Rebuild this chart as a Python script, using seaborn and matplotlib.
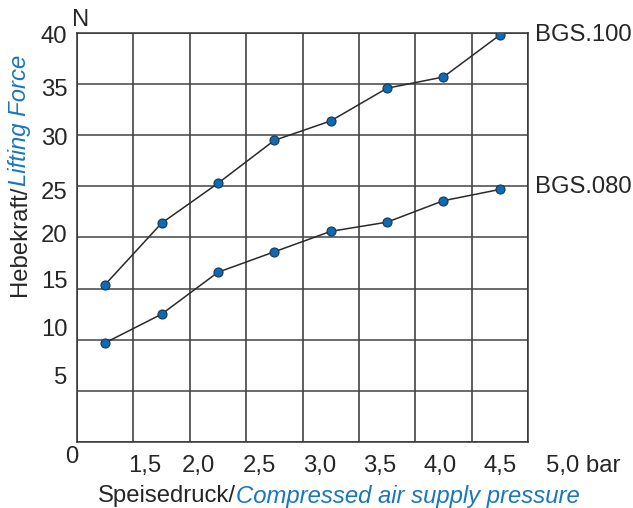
import matplotlib
matplotlib.use("Agg")
import matplotlib.pyplot as plt
import matplotlib.transforms as mtransforms
import seaborn as sns
import pandas as pd
import numpy as np

# values
pressure = [1.0, 1.5, 2.0, 2.5, 3.0, 3.5, 4.0, 4.5]
force_bgs100 = [15.4, 21.4, 25.3, 29.5, 31.4, 34.6, 35.7, 39.8]
force_bgs080 = [9.7, 12.5, 16.6, 18.6, 20.6, 21.5, 23.6, 24.7]
series_names = ["BGS.100", "BGS.080"]

x_tick_labels = ["1,5", "2,0", "2,5", "3,0", "3,5", "4,0", "4,5", "5,0 bar"]
y_tick_labels = ["5", "10", "15", "20", "25", "30", "35", "40"]

# label positions in the original drawing do not sit on the grid lines
x_tick_pos = [1.355, 1.826, 2.368, 2.90, 3.433, 3.966, 4.50, 5.24]
y_tick_pos = [6.5, 11.2, 15.9, 20.4, 24.6, 29.9, 34.7, 39.9]

BLUE = "#1a76bd"
LINE = "#2a2a2a"
TXT = "#262626"
FS = 17.2

df = pd.DataFrame({
    "pressure": pressure * 2,
    "force": force_bgs100 + force_bgs080,
    "series": [series_names[0]] * len(pressure) + [series_names[1]] * len(pressure),
})

sns.set_style("white")
plt.rcParams["font.family"] = ["Liberation Sans", "DejaVu Sans"]

fig = plt.figure(figsize=(6.33, 5.08), dpi=100)
ax = fig.add_axes([77 / 633, 1 - 442 / 508, 451 / 633, 409 / 508])

sns.lineplot(data=df, x="pressure", y="force", units="series", estimator=None,
             color=LINE, linewidth=1.1, marker="o", markersize=6.5,
             markerfacecolor="#0a6cb6", markeredgecolor="#1c3550",
             markeredgewidth=0.8, ax=ax, zorder=3)

ax.set_xticks(np.arange(0.75, 4.76, 0.5))
ax.set_xticklabels([])
ax.set_yticks(y_tick_pos, y_tick_labels)
ax.set_yticks(np.arange(0, 41, 5), minor=True)
ax.set_xlim(0.75, 4.75)
ax.set_ylim(0, 40)

ax.grid(which="minor", axis="y", color="#444444", linewidth=1.1)
ax.grid(which="major", axis="x", color="#333333", linewidth=1.1)
ax.grid(which="major", axis="y", visible=False)

ax.tick_params(which="both", length=0)
ax.tick_params(axis="y", pad=7, labelsize=FS, colors=TXT)
for sp in ax.spines.values():
    sp.set_color("#333333")
    sp.set_linewidth(1.1)
ax.set_xlabel("")
ax.set_ylabel("")

# x labels sit off the grid lines, so place them as text
xtrans = mtransforms.blended_transform_factory(ax.transData, fig.transFigure)
for pos, lab in zip(x_tick_pos, x_tick_labels):
    ax.text(pos, 1 - 466 / 508, lab, transform=xtrans, fontsize=FS,
            ha="center", va="center", color=TXT, clip_on=False)

fig.text(72 / 633, 1 - 457 / 508, "0", fontsize=FS,
         ha="center", va="center", color=TXT)
fig.text(81 / 633, 1 - 20 / 508, "N", fontsize=FS,
         ha="center", va="center", color=TXT)

# series names at the right of the grid
for name, ypx in zip(series_names, [35, 187]):
    fig.text(535 / 633, 1 - ypx / 508, name, fontsize=FS, ha="left",
             va="center", color=TXT)

renderer = fig.canvas.get_renderer()

# x axis title, two colours
t1 = fig.text(98 / 633, 1 - 496 / 508, "Speisedruck/", fontsize=FS,
              ha="left", va="center", color=TXT)
bb = t1.get_window_extent(renderer).transformed(fig.transFigure.inverted())
fig.text(bb.x1, 1 - 496 / 508, "Compressed air supply pressure", fontsize=FS,
         ha="left", va="center", color=BLUE, style="italic")

# y axis title, two colours
t2 = fig.text(20 / 633, 1 - 296 / 508, "Hebekraft/", fontsize=FS, rotation=90,
              ha="center", va="bottom", color=TXT)
bb = t2.get_window_extent(renderer).transformed(fig.transFigure.inverted())
fig.text(20 / 633, bb.y1, "Lifting Force", fontsize=FS, rotation=90,
         ha="center", va="bottom", color=BLUE, style="italic")

fig.savefig("out.png", dpi=100)
